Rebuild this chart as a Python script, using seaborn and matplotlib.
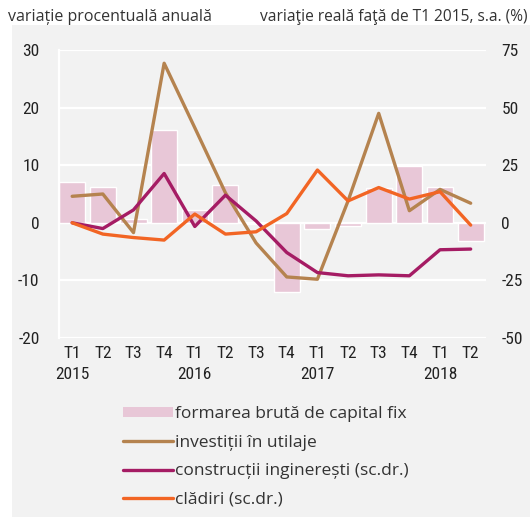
import matplotlib
matplotlib.use("Agg")
import matplotlib.pyplot as plt
from matplotlib import font_manager
from matplotlib.patches import Rectangle, Patch
from matplotlib.lines import Line2D
import numpy as np
import pandas as pd
import seaborn as sns

# ---------------- data ----------------
quarters = ["T1", "T2", "T3", "T4", "T1", "T2", "T3", "T4",
            "T1", "T2", "T3", "T4", "T1", "T2"]
years = ["2015", "", "", "", "2016", "", "", "", "2017", "", "", "", "2018", ""]
fbcf = [7.0, 6.3, 0.6, 16.1, 2.3, 6.5, -0.2, -12.1, -1.0, -0.5, 6.1, 9.9, 6.3, -3.1]
utilaje = [4.6, 5.0, -1.7, 27.7, 16.5, 5.2, -3.5, -9.4, -9.8, 3.8, 19.0, 2.1, 5.8, 3.4]
constructii = [0.0, -2.5, 5.6, 21.4, -1.6, 12.0, 0.8, -12.9, -21.6, -23.0, -22.6, -23.0, -11.7, -11.4]
cladiri = [0.0, -4.9, -6.4, -7.5, 3.8, -4.9, -3.9, 4.0, 22.9, 9.5, 15.3, 10.3, 13.5, -1.0]

labels = ["formarea brută de capital fix", "investiții în utilaje",
          "construcții inginerești (sc.dr.)", "clădiri (sc.dr.)"]
left_title = "variație procentuală anuală"
right_title = "variaţie reală faţă de T1 2015, s.a. (%)"

c_bar = "#e8c7d7"
c_util = "#b5834f"
c_cons = "#a51c64"
c_clad = "#f26524"
bg = "#f2f2f2"

# ---------------- fonts ----------------
avail = {f.name for f in font_manager.fontManager.ttflist}
def pick(cands):
    for c in cands:
        if c in avail:
            return c
    return "DejaVu Sans"
narrow = pick(["Liberation Sans Narrow", "Roboto Condensed", "DejaVu Sans"])
body = pick(["Open Sans", "Noto Sans", "DejaVu Sans"])

sns.set_theme(style="white")
plt.rcParams["font.family"] = [body, "DejaVu Sans"]

n = len(quarters)
idx = np.arange(n)
df = pd.DataFrame({"pos": [f"q{i}" for i in idx], "fbcf": fbcf,
                   "x": idx, "utilaje": utilaje,
                   "constructii": constructii, "cladiri": cladiri})

fig = plt.figure(figsize=(5.30, 5.17), dpi=100)
fig.patch.set_facecolor("white")
fig.add_artist(Rectangle((12 / 530, 0), 1, (517 - 25) / 517,
                         transform=fig.transFigure, facecolor=bg,
                         edgecolor="none", zorder=0))

ax = fig.add_axes([59 / 530, 179 / 517, (486 - 59) / 530, (338 - 50) / 517])
ax.set_facecolor(bg)
ax2 = ax.twinx()

sns.barplot(data=df, x="pos", y="fbcf", color=c_bar, saturation=1,
            width=0.85, ax=ax, zorder=2)
sns.lineplot(data=df, x="x", y="utilaje", color=c_util, lw=2.4, ax=ax,
             zorder=3)
sns.lineplot(data=df, x="x", y="constructii", color=c_cons, lw=2.4, ax=ax2)
sns.lineplot(data=df, x="x", y="cladiri", color=c_clad, lw=2.4, ax=ax2)

ax.set_xlim(-0.43, n - 0.5)
ax.set_ylim(-20, 30)
ax2.set_ylim(-50, 75)
ax.set_yticks([-20, -10, 0, 10, 20, 30])
ax2.set_yticks([-50, -25, 0, 25, 50, 75])
ax.set_xticks(idx)
ax.set_xticklabels([q + ("\n" + y if y else "\n") for q, y in zip(quarters, years)],
                   fontfamily=narrow, fontsize=12.5, color="#222222",
                   linespacing=1.45)
for a in (ax, ax2):
    a.set_xlabel("")
    a.set_ylabel("")
ax.set_yticklabels([str(v) for v in [-20, -10, 0, 10, 20, 30]],
                   fontfamily=narrow, fontsize=12.5, color="#222222")
ax2.set_yticklabels([str(v) for v in [-50, -25, 0, 25, 50, 75]],
                    fontfamily=narrow, fontsize=12.5, color="#222222")
ax.tick_params(axis="y", length=0, pad=14)
ax2.tick_params(axis="y", length=0, pad=11)
ax.tick_params(axis="x", length=0, pad=6)

ax.grid(axis="y", color="white", lw=1.6, zorder=1)
ax.set_axisbelow(True)
for s in ["top", "right", "bottom"]:
    ax.spines[s].set_visible(False)
    ax2.spines[s].set_visible(False)
ax2.spines["left"].set_visible(False)
ax.spines["left"].set_color("white")
ax.spines["left"].set_linewidth(1.6)
ax2.patch.set_visible(False)

ax.set_zorder(1)
ax2.set_zorder(2)

fig.text(8 / 530, 1 - 17 / 517, left_title, fontsize=11.5, color="#333333",
         va="center", ha="left")
fig.text(528 / 530, 1 - 17 / 517, right_title, fontsize=11.2, color="#333333",
         va="center", ha="right")

handles = [Patch(facecolor=c_bar, edgecolor="none"),
           Line2D([], [], color=c_util, lw=2.4),
           Line2D([], [], color=c_cons, lw=2.4),
           Line2D([], [], color=c_clad, lw=2.4)]
fig.legend(handles, labels, loc="upper left",
           bbox_to_anchor=(116 / 530, 1 - 399 / 517), frameon=False,
           fontsize=12.5, handlelength=2.9, handleheight=0.5,
           handletextpad=0.1, labelspacing=0.73, borderaxespad=0,
           labelcolor="#333333")

fig.savefig("out.png", dpi=100, facecolor=fig.get_facecolor())
